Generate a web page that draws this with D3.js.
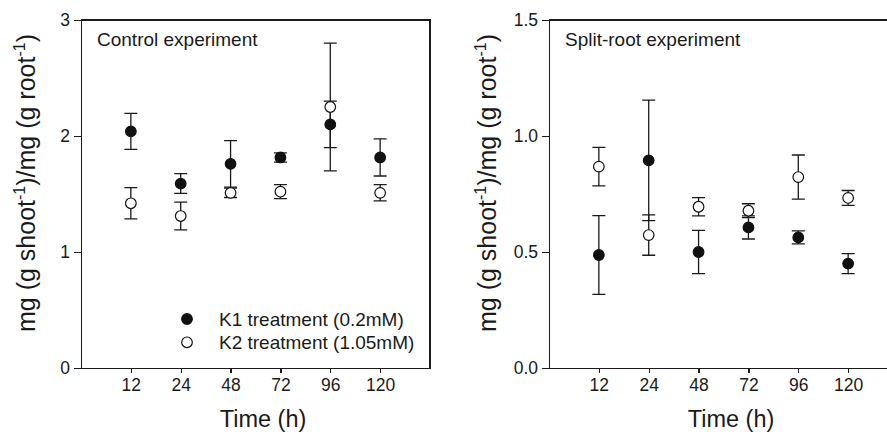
<!DOCTYPE html>
<meta charset="utf-8">
<style>
html, body { margin: 0; padding: 0; background: #fff; }
svg text { font-family: "Liberation Sans", Arial, Helvetica, sans-serif; fill: #1a1a1a; }
.axis path, .axis line, .frame { stroke: #1a1a1a; stroke-width: 1.2; fill: none; shape-rendering: crispEdges; }
.axis text { font-size: 17.5px; }
.err { stroke: #1a1a1a; stroke-width: 1.3; fill: none; }
</style>
<body></body>
<script src="https://d3js.org/d3.v7.min.js"></script>
<script>
// time points (h)
var times = ["12", "24", "48", "72", "96", "120"];

// control experiment
var controlK1 = [2.04, 1.59, 1.76, 1.815, 2.10, 1.815];
var controlK1Err = [0.155, 0.085, 0.20, 0.04, 0.20, 0.16];
var controlK2 = [1.42, 1.31, 1.51, 1.52, 2.25, 1.51];
var controlK2Err = [0.135, 0.12, 0.04, 0.06, 0.55, 0.07];
var controlTicks = [0, 1, 2, 3];

// split-root experiment
var splitK1 = [0.487, 0.895, 0.50, 0.606, 0.563, 0.45];
var splitK1Err = [0.17, 0.26, 0.093, 0.05, 0.028, 0.043];
var splitK2 = [0.868, 0.573, 0.695, 0.678, 0.823, 0.733];
var splitK2Err = [0.083, 0.087, 0.039, 0.03, 0.095, 0.032];
var splitTicks = [0, 0.5, 1.0, 1.5];

var legendLabels = ["K1 treatment (0.2mM)", "K2 treatment (1.05mM)"];

var W = 887, H = 432;
var svg = d3.select("body").append("svg").attr("width", W).attr("height", H);

function panel(opts) {
  var x = d3.scalePoint().domain(times).range([opts.left, opts.left + 349]).padding(1);
  var y = d3.scaleLinear().domain([0, opts.ymax]).range([368, 20]);
  var g = svg.append("g");

  // frame (top + right)
  g.append("path").attr("class", "frame")
    .attr("d", "M" + opts.left + "," + y(opts.ymax) + "H" + (opts.left + 349) + "V" + y(0));

  g.append("g").attr("class", "axis")
    .attr("transform", "translate(0," + y(0) + ")")
    .call(d3.axisBottom(x).tickSizeInner(5).tickSizeOuter(0).tickPadding(6));
  g.append("g").attr("class", "axis")
    .attr("transform", "translate(" + opts.left + ",0)")
    .call(d3.axisLeft(y).tickValues(opts.ticks).tickFormat(opts.fmt).tickSizeInner(7).tickSizeOuter(0).tickPadding(4));

  // axis titles
  g.append("text").attr("x", x.range()[0] + 182).attr("y", 427)
    .attr("text-anchor", "middle").style("font-size", "23.5px").text("Time (h)");
  var yt = g.append("text")
    .attr("transform", "translate(" + (opts.left - opts.ytOff) + ",183) rotate(-90)")
    .attr("text-anchor", "middle").style("font-size", "25px");
  yt.append("tspan").text("mg (g shoot");
  yt.append("tspan").attr("dy", -10).style("font-size", "16px").text("-1");
  yt.append("tspan").attr("dy", 10).text(")/mg (g root");
  yt.append("tspan").attr("dy", -10).style("font-size", "16px").text("-1");
  yt.append("tspan").attr("dy", 10).text(")");

  g.append("text").attr("x", opts.left + 16).attr("y", 46)
    .style("font-size", "19px").text(opts.title);

  var series = [
    {vals: opts.k1, err: opts.k1Err, fill: "#111"},
    {vals: opts.k2, err: opts.k2Err, fill: "#fff"}
  ];
  series.forEach(function(s) {
    var eb = g.append("g").selectAll("g").data(times).join("g")
      .attr("transform", function(d) { return "translate(" + x(d) + ",0)"; });
    eb.append("path").attr("class", "err").attr("d", function(d, i) {
      var hi = y(s.vals[i] + s.err[i]), lo = y(s.vals[i] - s.err[i]);
      return "M-6.5," + hi + "H6.5M0," + hi + "V" + lo + "M-6.5," + lo + "H6.5";
    });
  });
  series.forEach(function(s) {
    g.append("g").selectAll("circle").data(times).join("circle")
      .attr("cx", function(d) { return x(d); })
      .attr("cy", function(d, i) { return y(s.vals[i]); })
      .attr("r", 5.3)
      .attr("fill", s.fill).attr("stroke", "#111").attr("stroke-width", 1.2);
  });
  return {x: x, y: y, g: g};
}

var p1 = panel({left: 81, ymax: 3, ticks: controlTicks, fmt: d3.format("d"), ytOff: 46,
  title: "Control experiment", k1: controlK1, k1Err: controlK1Err, k2: controlK2, k2Err: controlK2Err});
panel({left: 549, ymax: 1.5, ticks: splitTicks, fmt: d3.format(".1f"), ytOff: 53,
  title: "Split-root experiment", k1: splitK1, k1Err: splitK1Err, k2: splitK2, k2Err: splitK2Err});

// legend in control panel
var leg = p1.g.append("g").selectAll("g").data(legendLabels).join("g")
  .attr("transform", function(d, i) { return "translate(187," + (319 + i * 23.3) + ")"; });
leg.append("circle").attr("r", 5.3)
  .attr("fill", function(d, i) { return i ? "#fff" : "#111"; })
  .attr("stroke", "#111").attr("stroke-width", 1.2);
leg.append("text").attr("x", 32).attr("y", 7).style("font-size", "19px").text(function(d) { return d; });
</script>
